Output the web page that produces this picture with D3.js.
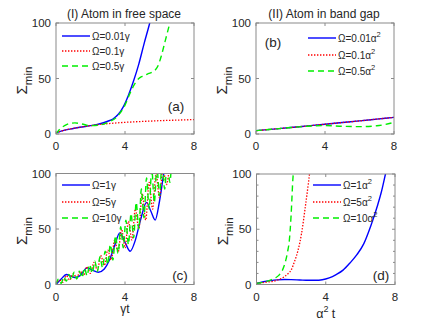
<!DOCTYPE html>
<html>
<head>
<meta charset="utf-8">
<script src="https://cdn.jsdelivr.net/npm/d3@7"></script>
<style>
  body { margin: 0; background: #fff; }
  svg { display: block; font-family: "Liberation Sans", Arial, Helvetica, sans-serif; }
</style>
</head>
<body>
<div id="chart"></div>
<script>
// ---- data ----
// (a) atom in free space, small Rabi frequencies
const tA_blue = [0, 0.5, 1, 1.5, 2, 2.5, 3, 3.3, 3.6, 3.9, 4.2, 4.5, 4.8, 5.1, 5.4, 5.5];
const vA_blue = [1, 3.5, 5, 6.3, 7.5, 9, 11.5, 13.5, 17.5, 24.5, 35, 48, 63, 81, 98, 104];
const tA_red = [0, 0.5, 1, 1.5, 2, 3, 4, 5, 6, 7, 8];
const vA_red = [1, 3.5, 5, 6.3, 7.5, 9.3, 10.5, 11.3, 12, 12.5, 13];
const tA_green = [0, 0.2, 0.5, 0.8, 1.1, 1.5, 2, 2.5, 3, 3.5, 4, 4.3, 4.6, 4.8, 5.0, 5.3, 5.6, 5.9, 6.1, 6.3, 6.5, 6.7];
const vA_green = [0, 4, 7.5, 9.5, 10, 9, 7.5, 8, 10.5, 15, 26, 37, 46, 50, 52, 54, 56, 61, 70, 82, 94, 106];

// (b) atom in band gap, small Rabi frequencies
const tB = [0, 1, 2, 3, 4, 5, 6, 7, 8];
const vB_blue = [3, 4.4, 5.8, 7.3, 8.8, 10.3, 11.8, 13.4, 15];
const vB_red = [3, 4.4, 5.8, 7.3, 8.8, 10.3, 11.8, 13.4, 15];
const tB_green = [0, 1, 2, 3, 4, 5, 6, 7, 7.5, 8];
const vB_green = [3, 4.4, 5.8, 7, 7.6, 7, 6.6, 7.4, 8.6, 10.5];

// (c) atom in free space, large Rabi frequencies
const tC_blue = [0, 0.3, 0.6, 0.85, 1.1, 1.4, 1.8, 2.1, 2.45, 2.8, 3.1, 3.4, 3.7, 4.0, 4.3, 4.6, 4.9, 5.25, 5.5, 5.75, 6.0, 6.25, 6.4];
const vC_blue = [0, 5, 9, 7.5, 6.3, 8, 15, 13, 11, 14, 22, 35, 46.5, 38, 30, 40, 58, 74, 66, 58, 75, 100, 112];
const tC_red = [0, 0.2, 0.4, 0.6, 0.8, 1.0, 1.2, 1.4, 1.6, 1.8, 2.0, 2.2, 2.4, 2.6, 2.8, 3.0, 3.2, 3.4, 3.6, 3.8, 4.0, 4.2, 4.4, 4.6, 4.8, 5.0, 5.2, 5.4, 5.6, 5.8, 6.0, 6.2, 6.4, 6.6];
const vC_red = [0, 4, 2, 8, 4, 10, 6, 12, 8, 16, 10, 20, 13, 26, 17, 31, 22, 40, 29, 50, 33, 57, 40, 68, 50, 82, 58, 92, 68, 100, 78, 105, 90, 110];
const tC_green = [0, 0.15, 0.3, 0.45, 0.6, 0.75, 0.9, 1.05, 1.2, 1.35, 1.5, 1.65, 1.8, 1.95, 2.1, 2.25, 2.4, 2.55, 2.7, 2.85, 3.0, 3.15, 3.3, 3.45, 3.6, 3.75, 3.9, 4.05, 4.2, 4.35, 4.5, 4.65, 4.8, 4.95, 5.1, 5.25, 5.4, 5.55, 5.7, 5.85, 6.0, 6.15, 6.3, 6.45, 6.6, 6.75, 6.9];
const vC_green = [0, 5, 1, 7, 3, 9, 4, 11, 5, 12, 6, 15, 8, 18, 10, 21, 12, 25, 15, 30, 18, 36, 22, 44, 28, 52, 33, 58, 36, 64, 42, 74, 50, 86, 60, 96, 68, 104, 74, 106, 80, 110, 86, 112, 92, 115, 100];

// (d) atom in band gap, large Rabi frequencies
const tD_blue = [0, 0.4, 0.8, 1.2, 1.6, 2, 2.5, 3, 3.4, 3.8, 4.2, 4.6, 5, 5.4, 5.8, 6.2, 6.6, 7, 7.2, 7.45, 7.6];
const vD_blue = [1, 2.5, 3.5, 4.2, 4.5, 4.4, 4.1, 3.8, 3.8, 4.3, 6, 9, 13, 19.5, 27, 37, 53, 72, 83, 100, 110];
const tD_red = [0, 0.5, 1, 1.3, 1.6, 1.8, 2, 2.2, 2.4, 2.6, 2.8, 3, 3.1];
const vD_red = [1, 2, 3, 4.5, 7, 9.5, 13, 21, 31, 46, 68, 92, 105];
const tD_green = [0, 0.5, 0.8, 1.1, 1.3, 1.5, 1.7, 1.8, 1.9, 2, 2.1, 2.15];
const vD_green = [1, 2.5, 4, 6, 8.5, 13, 22.5, 30, 40.5, 63, 95, 105];

const xTicks = [0, 4, 8];
const yTicks = [0, 50, 100];

const STYLE = {
  blue: { color: '#0000ff', width: 1.4, dash: null },
  red: { color: '#ff0000', width: 1.3, dash: '1.4 1.6' },
  green: { color: '#00ee00', width: 1.4, dash: '6 4' }
};

const zip = (t, v) => t.map((d, i) => [d, v[i]]);

const panels = [
  {
    id: 'a', box: [56, 194, 23, 134], title: '(I) Atom in free space', tag: '(a)', tagPos: [176, 111],
    legendAt: [62, 36], legendStep: 15, unit: 'γ', sup: false,
    series: [
      { key: 'blue', label: 'Ω=0.01', data: zip(tA_blue, vA_blue) },
      { key: 'red', label: 'Ω=0.1', data: zip(tA_red, vA_red) },
      { key: 'green', label: 'Ω=0.5', data: zip(tA_green, vA_green) }
    ]
  },
  {
    id: 'b', box: [256, 394, 23, 134], title: '(II) Atom in band gap', tag: '(b)', tagPos: [273, 47],
    legendAt: [308, 38], legendStep: 16.5, unit: 'α', sup: true,
    series: [
      { key: 'blue', label: 'Ω=0.01', data: zip(tB, vB_blue) },
      { key: 'red', label: 'Ω=0.1', data: zip(tB, vB_red) },
      { key: 'green', label: 'Ω=0.5', data: zip(tB_green, vB_green) }
    ]
  },
  {
    id: 'c', box: [56, 194, 173.5, 284.5], tag: '(c)', tagPos: [180, 280], xlabel: 'γt',
    legendAt: [62, 185], legendStep: 16.5, unit: 'γ', sup: false,
    series: [
      { key: 'blue', label: 'Ω=1', data: zip(tC_blue, vC_blue) },
      { key: 'red', label: 'Ω=5', data: zip(tC_red, vC_red) },
      { key: 'green', label: 'Ω=10', data: zip(tC_green, vC_green) }
    ]
  },
  {
    id: 'd', box: [256.5, 395, 174, 284.5], tag: '(d)', tagPos: [381, 280], xlabel: 'α2t', minor: true,
    legendAt: [313, 185], legendStep: 16.5, unit: 'α', sup: true,
    series: [
      { key: 'blue', label: 'Ω=1', data: zip(tD_blue, vD_blue) },
      { key: 'red', label: 'Ω=5', data: zip(tD_red, vD_red) },
      { key: 'green', label: 'Ω=10', data: zip(tD_green, vD_green) }
    ]
  }
];

const svg = d3.select('#chart').append('svg')
  .attr('width', 432).attr('height', 325);

const INK = '#262626';
const FRAME = '#8a8a8a';

panels.forEach(p => drawPanel(p));

function drawPanel(p) {
  const [x0, x1, y0, y1] = p.box;
  const x = d3.scaleLinear().domain([0, 8]).range([x0, x1]);
  const y = d3.scaleLinear().domain([0, 100]).range([y1, y0]);
  const g = svg.append('g').attr('class', 'panel-' + p.id);

  g.append('clipPath').attr('id', 'clip-' + p.id)
    .append('rect').attr('x', x0).attr('y', y0).attr('width', x1 - x0).attr('height', y1 - y0);

  // curves, in legend order (green ends on top)
  const line = d3.line().x(d => x(d[0])).y(d => y(d[1])).curve(d3.curveMonotoneX);
  const curves = g.append('g').attr('clip-path', `url(#clip-${p.id})`);
  p.series.forEach(s => {
    const st = STYLE[s.key];
    curves.append('path')
      .attr('d', line(s.data))
      .attr('fill', 'none')
      .attr('stroke', st.color)
      .attr('stroke-width', st.width)
      .attr('stroke-dasharray', st.dash)
      .attr('stroke-linejoin', 'round');
  });

  // frame
  g.append('rect')
    .attr('x', x0).attr('y', y0).attr('width', x1 - x0).attr('height', y1 - y0)
    .attr('fill', 'none').attr('stroke', FRAME).attr('stroke-width', 1);

  // ticks (inward, all four sides)
  const tk = 3;
  xTicks.forEach(t => {
    g.append('line').attr('x1', x(t)).attr('x2', x(t)).attr('y1', y1).attr('y2', y1 - tk).attr('stroke', FRAME);
    g.append('line').attr('x1', x(t)).attr('x2', x(t)).attr('y1', y0).attr('y2', y0 + tk).attr('stroke', FRAME);
  });
  yTicks.forEach(t => {
    g.append('line').attr('x1', x0).attr('x2', x0 + tk).attr('y1', y(t)).attr('y2', y(t)).attr('stroke', FRAME);
    g.append('line').attr('x1', x1).attr('x2', x1 - tk).attr('y1', y(t)).attr('y2', y(t)).attr('stroke', FRAME);
  });
  if (p.minor) {
    d3.range(10, 100, 10).filter(t => t !== 50).forEach(t => {
      g.append('line').attr('x1', x0).attr('x2', x0 + 2).attr('y1', y(t)).attr('y2', y(t)).attr('stroke', FRAME);
      g.append('line').attr('x1', x1).attr('x2', x1 - 2).attr('y1', y(t)).attr('y2', y(t)).attr('stroke', FRAME);
    });
  }

  // tick labels
  g.selectAll('.xt').data(xTicks).join('text')
    .attr('x', d => x(d)).attr('y', y1 + 16)
    .attr('text-anchor', 'middle').attr('font-size', 11.5).attr('fill', INK)
    .text(d => d);
  g.selectAll('.yt').data(yTicks).join('text')
    .attr('x', x0 - 5).attr('y', d => y(d) + 4)
    .attr('text-anchor', 'end').attr('font-size', 11.5).attr('fill', INK)
    .text(d => d);

  // y label  Σ_min
  const yl = g.append('text')
    .attr('transform', `translate(${x0 - 29},${(y0 + y1) / 2 + 2}) rotate(-90)`)
    .attr('text-anchor', 'middle').attr('fill', INK);
  yl.append('tspan').attr('font-size', 15).text('Σ');
  yl.append('tspan').attr('font-size', 11.5).attr('dy', 5).text('min');

  // title
  if (p.title) {
    g.append('text')
      .attr('x', (x0 + x1) / 2 - 1).attr('y', 18)
      .attr('text-anchor', 'middle').attr('font-size', 12).attr('fill', INK)
      .text(p.title);
  }

  // x label
  if (p.xlabel === 'γt') {
    g.append('text')
      .attr('x', (x0 + x1) / 2).attr('y', 312.5)
      .attr('text-anchor', 'middle').attr('font-size', 12).attr('fill', INK)
      .text('γt');
  } else if (p.xlabel) {
    const xl = g.append('text')
      .attr('x', (x0 + x1) / 2).attr('y', 318)
      .attr('text-anchor', 'middle').attr('font-size', 12.5).attr('fill', INK);
    xl.append('tspan').text('α');
    xl.append('tspan').attr('font-size', 9).attr('dy', -6).text('2');
    xl.append('tspan').attr('dy', 6).text(' t');
  }

  // panel tag
  g.append('text')
    .attr('x', p.tagPos[0]).attr('y', p.tagPos[1])
    .attr('text-anchor', 'middle').attr('font-size', 13.5).attr('fill', INK)
    .text(p.tag);

  // legend
  const [lx, ly] = p.legendAt;
  p.series.forEach((s, i) => {
    const st = STYLE[s.key];
    const yy = Math.round(ly + i * p.legendStep);
    g.append('line')
      .attr('x1', lx).attr('x2', lx + 28).attr('y1', yy).attr('y2', yy)
      .attr('stroke', st.color).attr('stroke-width', st.width)
      .attr('stroke-dasharray', st.dash);
    const t = g.append('text')
      .attr('x', lx + 30).attr('y', yy + 3.5)
      .attr('font-size', 10).attr('fill', INK);
    t.append('tspan').text(s.label + p.unit);
    if (p.sup) t.append('tspan').attr('font-size', 7.5).attr('dy', -5).text('2');
  });
}
</script>
</body>
</html>
